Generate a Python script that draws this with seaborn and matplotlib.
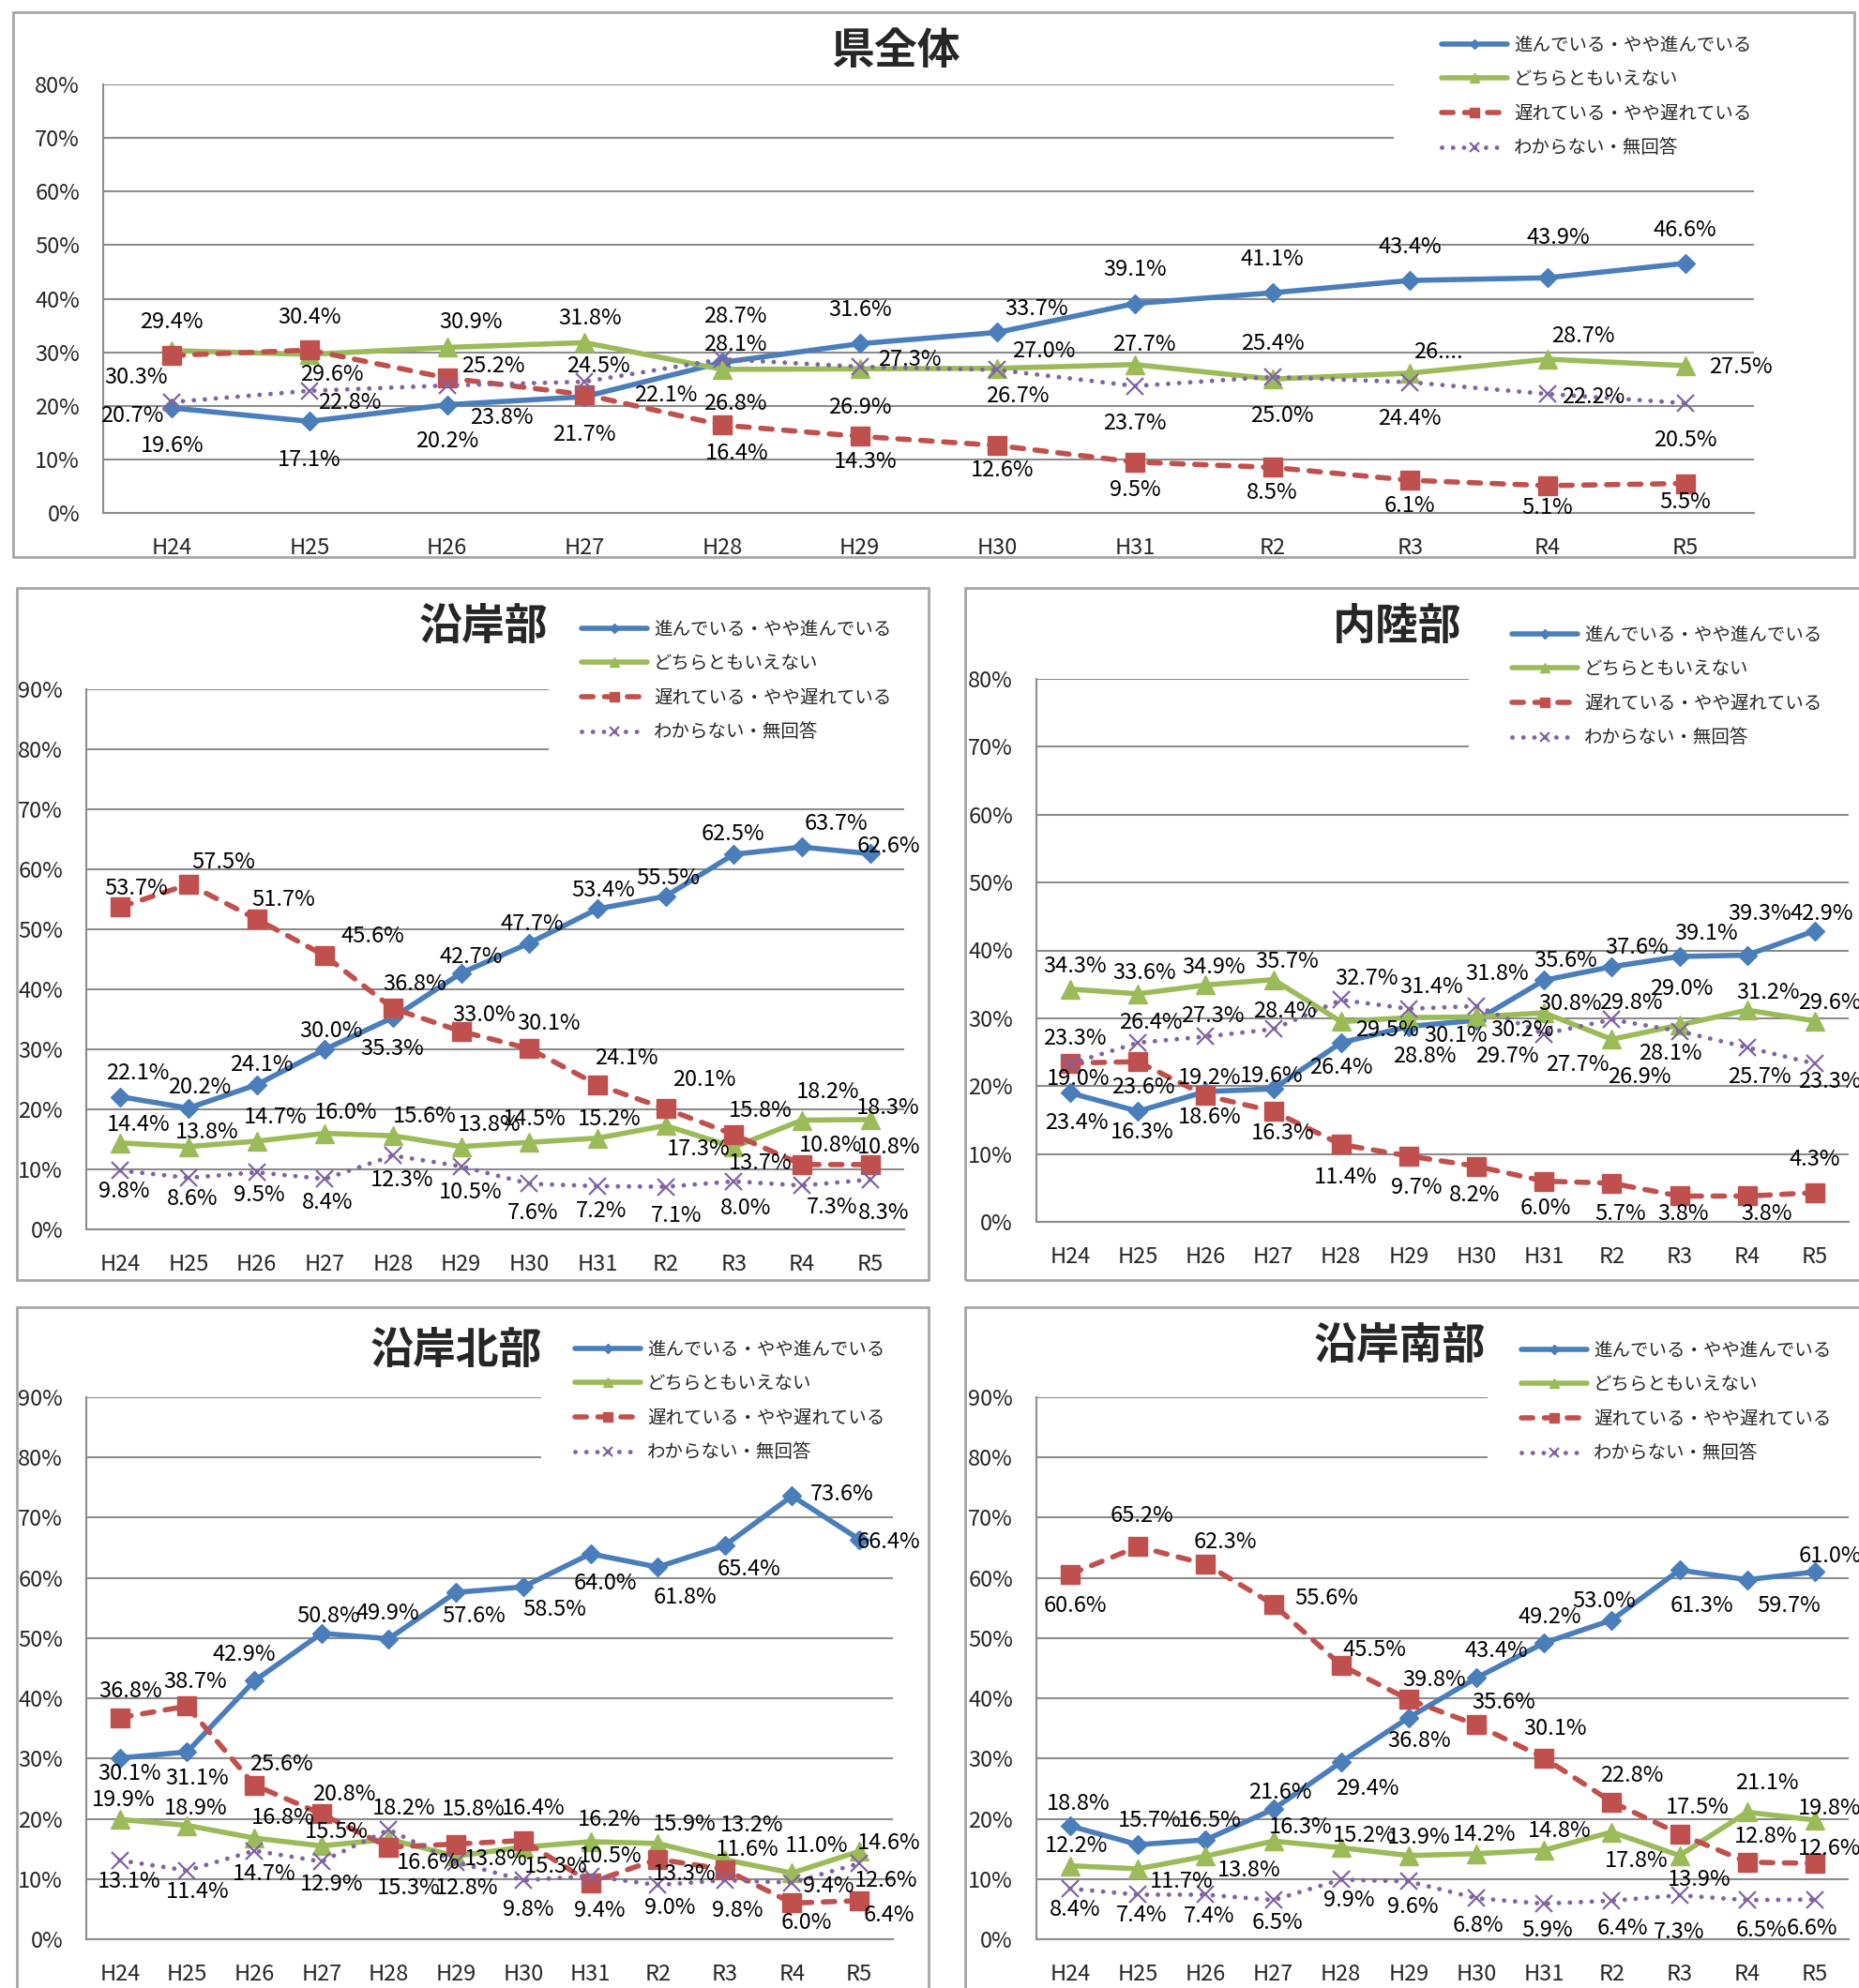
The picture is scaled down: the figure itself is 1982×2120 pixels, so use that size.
import numpy as np
import matplotlib
matplotlib.use("Agg")
import matplotlib.pyplot as plt
from matplotlib.patches import Rectangle
from matplotlib.lines import Line2D
import seaborn as sns

years = ["H24", "H25", "H26", "H27", "H28", "H29", "H30", "H31", "R2", "R3", "R4", "R5"]
series_names = ["進んでいる・やや進んでいる", "どちらともいえない",
                "遅れている・やや遅れている", "わからない・無回答"]

# 県全体
zentai_susumu = [19.6, 17.1, 20.2, 21.7, 28.1, 31.6, 33.7, 39.1, 41.1, 43.4, 43.9, 46.6]
zentai_dochira = [30.3, 29.6, 30.9, 31.8, 26.8, 26.9, 27.0, 27.7, 25.0, 26.1, 28.7, 27.5]
zentai_okure = [29.4, 30.4, 25.2, 22.1, 16.4, 14.3, 12.6, 9.5, 8.5, 6.1, 5.1, 5.5]
zentai_wakaranai = [20.7, 22.8, 23.8, 24.5, 28.7, 27.3, 26.7, 23.7, 25.4, 24.4, 22.2, 20.5]

# 沿岸部
engan_susumu = [22.1, 20.2, 24.1, 30.0, 35.3, 42.7, 47.7, 53.4, 55.5, 62.5, 63.7, 62.6]
engan_dochira = [14.4, 13.8, 14.7, 16.0, 15.6, 13.8, 14.5, 15.2, 17.3, 13.7, 18.2, 18.3]
engan_okure = [53.7, 57.5, 51.7, 45.6, 36.8, 33.0, 30.1, 24.1, 20.1, 15.8, 10.8, 10.8]
engan_wakaranai = [9.8, 8.6, 9.5, 8.4, 12.3, 10.5, 7.6, 7.2, 7.1, 8.0, 7.3, 8.3]

# 内陸部
nairiku_susumu = [19.0, 16.3, 19.2, 19.6, 26.4, 28.8, 29.7, 35.6, 37.6, 39.1, 39.3, 42.9]
nairiku_dochira = [34.3, 33.6, 34.9, 35.7, 29.5, 30.1, 30.2, 30.8, 26.9, 29.0, 31.2, 29.6]
nairiku_okure = [23.4, 23.6, 18.6, 16.3, 11.4, 9.7, 8.2, 6.0, 5.7, 3.8, 3.8, 4.3]
nairiku_wakaranai = [23.3, 26.4, 27.3, 28.4, 32.7, 31.4, 31.8, 27.7, 29.8, 28.1, 25.7, 23.3]

# 沿岸北部
hokubu_susumu = [30.1, 31.1, 42.9, 50.8, 49.9, 57.6, 58.5, 64.0, 61.8, 65.4, 73.6, 66.4]
hokubu_dochira = [19.9, 18.9, 16.8, 15.5, 16.6, 13.8, 15.3, 16.2, 15.9, 13.2, 11.0, 14.6]
hokubu_okure = [36.8, 38.7, 25.6, 20.8, 15.3, 15.8, 16.4, 9.4, 13.3, 11.6, 6.0, 6.4]
hokubu_wakaranai = [13.1, 11.4, 14.7, 12.9, 18.2, 12.8, 9.8, 10.5, 9.0, 9.8, 9.4, 12.6]

# 沿岸南部
nanbu_susumu = [18.8, 15.7, 16.5, 21.6, 29.4, 36.8, 43.4, 49.2, 53.0, 61.3, 59.7, 61.0]
nanbu_dochira = [12.2, 11.7, 13.8, 16.3, 15.2, 13.9, 14.2, 14.8, 17.8, 13.9, 21.1, 19.8]
nanbu_okure = [60.6, 65.2, 62.3, 55.6, 45.5, 39.8, 35.6, 30.1, 22.8, 17.5, 12.8, 12.6]
nanbu_wakaranai = [8.4, 7.4, 7.4, 6.5, 9.9, 9.6, 6.8, 5.9, 6.4, 7.3, 6.5, 6.6]

# data label offsets (pixels, dx right / dy down) per series
zentai_offsets = [
    [(0, 40), (0, 41), (0, 39), (0, 40), (14, -19), (0, -36), (42, -25), (0, -36), (0, -36), (0, -36), (11, -43), (0, -35)],
    [(-38, 29), (24, 22), (25, -27), (6, -26), (14, 37), (0, 41), (49, -18), (10, -21), (10, 39), (30, -22), (38, -25), (59, 2)],
    [(0, -36), (0, -35), (49, -13), (86, 1), (16, 30), (6, 27), (5, 26), (0, 30), (0, 27), (0, 27), (0, 24), (0, 20)],
    [(-43, 15), (43, 13), (58, 34), (15, -17), (14, -46), (53, -8), (22, 28), (0, 40), (0, -35), (0, 39), (49, 3), (0, 40)],
]
engan_offsets = [
    [(18, -25), (12, -22), (5, -21), (7, -19), (-1, 33), (11, -17), (3, -20), (6, -20), (3, -19), (-1, -21), (36, -25), (20, -8)],
    [(19, -19), (20, -15), (20, -25), (22, -22), (34, -21), (30, -23), (5, -25), (13, -20), (35, 25), (28, 17), (28, -30), (19, -12)],
    [(17, -20), (37, -23), (29, -21), (51, -21), (23, -26), (24, -17), (21, -27), (31, -28), (41, -31), (28, -25), (31, -20), (20, -18)],
    [(4, 22), (4, 23), (3, 24), (3, 25), (10, 26), (10, 28), (4, 31), (4, 27), (11, 31), (13, 29), (32, 23), (14, 36)],
]
nairiku_offsets = [
    [(9, -15), (4, 22), (4, -15), (-2, -14), (0, 27), (17, 32), (33, 38), (23, -21), (27, -20), (29, -25), (13, -44), (7, -18)],
    [(5, -24), (7, -22), (9, -19), (15, -19), (49, 9), (50, 19), (49, 14), (28, -10), (29, 40), (2, -39), (22, -19), (16, -19)],
    [(7, 64), (6, 27), (4, 23), (10, 23), (5, 35), (8, 34), (-2, 31), (2, 29), (9, 33), (4, 19), (21, 19), (0, -35)],
    [(5, -27), (14, -21), (7, -22), (12, -19), (27, -23), (24, -23), (22, -34), (36, 33), (20, -18), (-10, 24), (13, 32), (16, 19)],
]
hokubu_offsets = [
    [(10, 17), (11, 28), (-11, -28), (7, -18), (-1, -27), (19, 25), (33, 24), (16, 32), (29, 32), (26, 26), (53, -2), (31, 3)],
    [(4, -21), (9, -18), (31, -22), (16, -15), (42, 25), (43, 3), (35, 21), (20, -23), (29, -20), (29, -37), (26, -29), (32, -9)],
    [(11, -28), (9, -26), (29, -22), (24, -21), (21, 44), (19, -37), (11, -34), (10, 30), (29, 16), (24, -21), (15, 21), (32, 16)],
    [(10, 23), (11, 23), (11, 25), (11, 24), (16, -23), (11, 28), (5, 31), (21, -21), (13, 24), (13, 32), (39, 4), (28, 18)],
]
nanbu_offsets = [
    [(9, -24), (12, -26), (4, -21), (7, -18), (28, 28), (11, 25), (21, -29), (6, -28), (-8, -20), (24, 38), (44, 28), (16, -17)],
    [(6, -21), (46, 14), (46, 15), (29, -15), (25, -13), (11, -19), (9, -20), (16, -20), (26, 31), (21, 26), (21, -31), (16, -12)],
    [(5, 34), (4, -33), (21, -23), (57, -6), (36, -16), (27, -21), (29, -24), (12, -31), (21, -28), (19, -28), (20, -27), (16, -16)],
    [(5, 22), (4, 22), (4, 23), (4, 24), (9, 22), (4, 27), (2, 29), (3, 28), (11, 30), (0, 39), (15, 32), (-3, 31)],
]

W, H = 1982, 2120

sns.set_style("white")
plt.rcParams["font.family"] = ["Noto Sans CJK JP", "DejaVu Sans"]

styles = [
    dict(color="#4A7EBB", marker="D", ms=10, mew=1, ls="-", lw=4, cap="butt", lms=5),
    dict(color="#9BBB59", marker="^", ms=14, mew=1, ls="-", lw=4, cap="butt", lms=7),
    dict(color="#C0504D", marker="s", ms=14, mew=1, ls=(0, (2.2, 2.2)), lw=4, cap="round", lms=7),
    dict(color="#8064A2", marker="x", ms=13, mew=1.6, ls=(0, (0.01, 2.4)), lw=3.5, cap="round", lms=7),
]

panels = [
    dict(title="県全体", ymax=80,
         data=[zentai_susumu, zentai_dochira, zentai_okure, zentai_wakaranai],
         offsets=zentai_offsets, overrides={(1, 9): "26...."},
         box=(14, 13, 1977, 594), axes=(110, 90, 1870, 547),
         title_xy=(955, 55), legend_xy=(1537, 103), mask=(0.782, 0.81)),
    dict(title="沿岸部", ymax=90,
         data=[engan_susumu, engan_dochira, engan_okure, engan_wakaranai],
         offsets=engan_offsets, overrides={},
         box=(18, 627, 990, 1365), axes=(92, 735, 964, 1311),
         title_xy=(515, 669), legend_xy=(620, 726), mask=(0.565, 0.83)),
    dict(title="内陸部", ymax=80,
         data=[nairiku_susumu, nairiku_dochira, nairiku_okure, nairiku_wakaranai],
         offsets=nairiku_offsets, overrides={},
         box=(1029, 627, 1990, 1365), axes=(1105, 724, 1971, 1303),
         title_xy=(1490, 669), legend_xy=(1612, 732), mask=(0.532, 0.81)),
    dict(title="沿岸北部", ymax=90,
         data=[hokubu_susumu, hokubu_dochira, hokubu_okure, hokubu_wakaranai],
         offsets=hokubu_offsets, overrides={},
         box=(18, 1394, 990, 2130), axes=(92, 1490, 952, 2068),
         title_xy=(486, 1441), legend_xy=(613, 1494), mask=(0.564, 0.83)),
    dict(title="沿岸南部", ymax=90,
         data=[nanbu_susumu, nanbu_dochira, nanbu_okure, nanbu_wakaranai],
         offsets=nanbu_offsets, overrides={},
         box=(1029, 1394, 1990, 2130), axes=(1105, 1490, 1971, 2068),
         title_xy=(1492, 1436), legend_xy=(1622, 1495), mask=(0.555, 0.83)),
]

fig = plt.figure(figsize=(W / 100, H / 100), dpi=100)
fig.patch.set_facecolor("white")

grid_color = "#8c8c8c"
x = np.arange(len(years))

for p in panels:
    l, t, r, b = p["axes"]
    ax = fig.add_axes([l / W, 1 - b / H, (r - l) / W, (b - t) / H])
    ax.set_facecolor("none")

    for k, vals in enumerate(p["data"]):
        st = styles[k]
        sns.lineplot(x=x, y=vals, ax=ax, color=st["color"], marker=st["marker"],
                     markersize=st["ms"], markeredgecolor=st["color"],
                     markeredgewidth=st["mew"], linewidth=st["lw"],
                     linestyle=st["ls"], dash_capstyle=st["cap"],
                     legend=False, zorder=3 + k)
        for i, v in enumerate(vals):
            dx, dy = p["offsets"][k][i]
            txt = p["overrides"].get((k, i), f"{v:.1f}%")
            ax.annotate(txt, (i, v), xytext=(dx, -dy), textcoords="offset pixels",
                        ha="center", va="center", fontsize=17, color="black",
                        zorder=10, annotation_clip=False)

    ax.set_xlim(-0.5, len(years) - 0.5)
    ax.set_ylim(0, p["ymax"])
    yt = list(range(0, p["ymax"] + 1, 10))
    ax.set_yticks(yt)
    ax.set_yticklabels([f"{v}%" for v in yt])
    ax.set_xticks(x)
    ax.set_xticklabels(years)
    ax.set_xlabel("")
    ax.set_ylabel("")
    ax.tick_params(axis="y", length=0, labelsize=17, pad=18)
    ax.tick_params(axis="x", length=0, labelsize=17, pad=19)
    ax.set_axisbelow(True)
    ax.yaxis.grid(True, color=grid_color, linewidth=1.5)
    ax.xaxis.grid(False)
    for side in ["top", "right"]:
        ax.spines[side].set_visible(False)
    for side in ["left", "bottom"]:
        ax.spines[side].set_color(grid_color)
        ax.spines[side].set_linewidth(1.5)

    # legend area hides the upper grid lines
    cut, ylow = p["mask"]
    ax.add_patch(Rectangle((cut, ylow), 1 - cut + 0.01, 1.05 - ylow,
                           transform=ax.transAxes, facecolor="white",
                           edgecolor="none", zorder=1.5, clip_on=False))

    handles = [Line2D([], [], color=st["color"], lw=st["lw"], linestyle=st["ls"],
                      dash_capstyle=st["cap"], marker=st["marker"],
                      markersize=st["lms"], markeredgecolor=st["color"],
                      markeredgewidth=st["mew"])
               for st in styles]
    lx, ly = p["legend_xy"]
    fig.legend(handles, series_names, loc="center left",
               bbox_to_anchor=(lx / W, 1 - ly / H), frameon=False, fontsize=14,
               handlelength=3.6, handletextpad=0.35, labelspacing=0.8,
               borderpad=0, borderaxespad=0)

    tx, ty = p["title_xy"]
    fig.text(tx / W, 1 - ty / H, p["title"], ha="center", va="center",
             fontsize=33, fontweight="bold")

    x0, y0, x1, y1 = p["box"]
    fig.add_artist(Rectangle((x0 / W, 1 - y1 / H), (x1 - x0) / W, (y1 - y0) / H,
                             transform=fig.transFigure, fill=False,
                             edgecolor="#a6a6a6", linewidth=2))

fig.savefig("out.png", dpi=100, facecolor="white")
